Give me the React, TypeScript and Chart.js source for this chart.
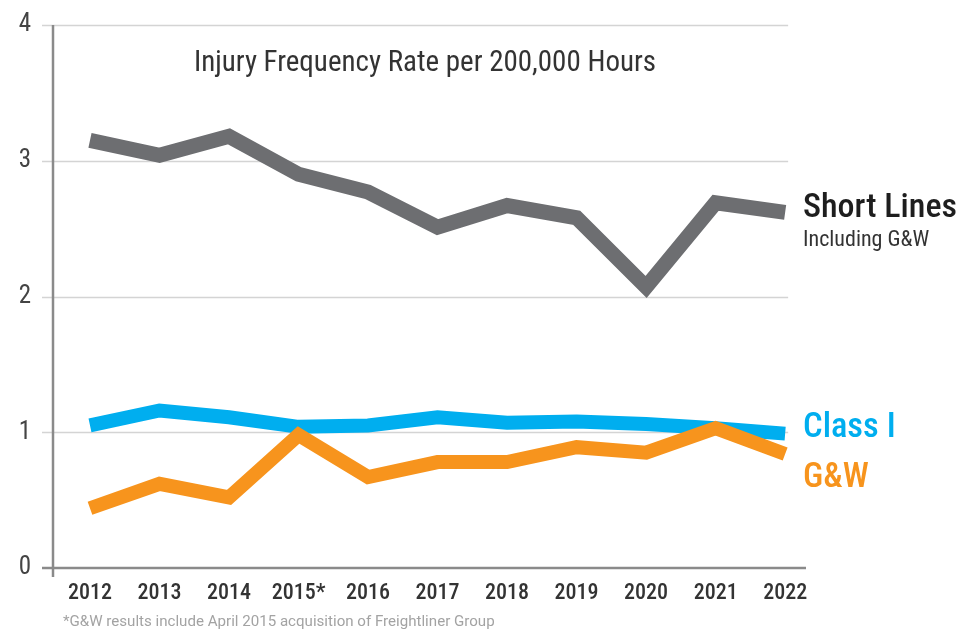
import { useEffect, useRef } from "react";
import { Chart, registerables } from "chart.js";

Chart.register(...registerables);

const years = ["2012", "2013", "2014", "2015*", "2016", "2017", "2018", "2019", "2020", "2021", "2022"];
const shortLines = [3.15, 3.04, 3.18, 2.9, 2.77, 2.51, 2.67, 2.58, 2.07, 2.69, 2.62];
const classI = [1.05, 1.16, 1.11, 1.04, 1.05, 1.11, 1.07, 1.08, 1.06, 1.03, 0.99];
const gw = [0.44, 0.62, 0.52, 0.98, 0.67, 0.78, 0.78, 0.89, 0.85, 1.03, 0.84];
const yTicks = [0, 1, 2, 3, 4];
const titleText = "Injury Frequency Rate per 200,000 Hours";
const footnoteText = "*G&W results include April 2015 acquisition of Freightliner Group";
const shortLabel = "Short Lines";
const shortSubLabel = "Including G&W";
const classLabel = "Class I";
const gwLabel = "G&W";

const GRAY = "#6d6e71";
const BLUE = "#00aeef";
const ORANGE = "#f7941d";

function pickFont(): string {
  const c = document.createElement("canvas").getContext("2d")!;
  const sample = "Injury Frequency 2012 abcdefghijklmnop";
  const cands = ["Roboto Condensed", "Liberation Sans Narrow", "DejaVu Sans Condensed", "Arial Narrow"];
  for (const f of cands) {
    c.font = `20px monospace`;
    const a = c.measureText(sample).width;
    c.font = `20px '${f}', monospace`;
    const b = c.measureText(sample).width;
    if (Math.abs(a - b) > 1) return `'${f}'`;
  }
  return "Roboto";
}

export default function App() {
  const ref = useRef<HTMLCanvasElement>(null);

  useEffect(() => {
    const fam = pickFont() + ", Roboto, 'Liberation Sans', sans-serif";

    const decor = {
      id: "decor",
      beforeDatasetsDraw(chart: any) {
        const { ctx, chartArea, scales } = chart;
        const y = scales.y;
        const x = scales.x;
        ctx.save();
        ctx.strokeStyle = "#d4d4d4";
        ctx.lineWidth = 1.5;
        const gridRight = x.getPixelForValue(years.length - 1) + 3;
        for (const t of yTicks) {
          if (t === 0) continue;
          const py = Math.round(y.getPixelForValue(t)) + 0.5;
          ctx.beginPath();
          ctx.moveTo(chartArea.left - 11, py);
          ctx.lineTo(gridRight, py);
          ctx.stroke();
        }
        ctx.strokeStyle = "#8a8a8a";
        ctx.lineWidth = 2.5;
        const y0 = y.getPixelForValue(0);
        ctx.beginPath();
        ctx.moveTo(chartArea.left, y.getPixelForValue(4));
        ctx.lineTo(chartArea.left, y0 + 9);
        ctx.stroke();
        ctx.beginPath();
        ctx.moveTo(chartArea.left - 11, y0);
        ctx.lineTo(chartArea.right, y0);
        ctx.stroke();
        ctx.restore();
      },
      afterDraw(chart: any) {
        const { ctx } = chart;
        ctx.save();
        ctx.textBaseline = "middle";
        ctx.textAlign = "center";
        ctx.fillStyle = "#333333";
        ctx.font = `29px ${fam}`;
        ctx.fillText(titleText, 425, 64);

        ctx.textAlign = "left";
        ctx.fillStyle = "#1e1e1e";
        ctx.font = `500 34px ${fam}`;
        ctx.fillText(shortLabel, 803, 208);
        ctx.fillStyle = "#333333";
        ctx.font = `22px ${fam}`;
        ctx.fillText(shortSubLabel, 803, 240);

        ctx.fillStyle = BLUE;
        ctx.font = `500 34.5px ${fam}`;
        ctx.fillText(classLabel, 803, 428);
        ctx.fillStyle = ORANGE;
        ctx.fillText(gwLabel, 803, 478);

        ctx.fillStyle = "#a3a3a3";
        ctx.font = `15.1px Roboto, 'Liberation Sans', sans-serif`;
        ctx.fillText(footnoteText, 63, 622);
        ctx.restore();
      },
    };

    const mk = (arr: number[]) => arr.map((v, i) => ({ x: i, y: v }));

    const chart = new Chart(ref.current!, {
      type: "line",
      data: {
        datasets: [
          { label: gwLabel, data: mk(gw), borderColor: ORANGE, order: 0 },
          { label: classLabel, data: mk(classI), borderColor: BLUE, order: 1 },
          { label: shortLabel, data: mk(shortLines), borderColor: GRAY, order: 2, borderWidth: 15 },
        ],
      },
      options: {
        responsive: false,
        animation: false,
        devicePixelRatio: 1,
        layout: { padding: { top: 25, left: 0, right: 158, bottom: 23 } },
        elements: {
          line: { borderWidth: 14, tension: 0, borderJoinStyle: "miter", borderCapStyle: "butt", fill: false },
          point: { radius: 0, hoverRadius: 0 },
        },
        plugins: { legend: { display: false }, tooltip: { enabled: false }, title: { display: false } },
        scales: {
          x: {
            type: "linear",
            min: -0.532,
            max: 10.3,
            grid: { display: false, drawTicks: false },
            border: { display: false },
            afterFit: (s: any) => { s.height = 40; s.paddingLeft = 0; s.paddingRight = 0; },
            ticks: {
              stepSize: 1,
              includeBounds: false,
              autoSkip: false,
              maxRotation: 0,
              padding: 12,
              color: "#333333",
              font: { family: fam, size: 22, weight: "500" },
              callback: (v: any) => (Number.isInteger(v) && years[v] !== undefined ? years[v] : ""),
            },
          },
          y: {
            min: 0,
            max: 4,
            grid: { display: false, drawTicks: false },
            border: { display: false },
            afterFit: (s: any) => { s.width = 53; s.paddingTop = 0; s.paddingBottom = 0; },
            ticks: {
              stepSize: 1,
              padding: 22,
              color: "#444444",
              font: { family: fam, size: 25, weight: "normal" },
            },
          },
        },
      },
      plugins: [decor],
    });
    return () => chart.destroy();
  }, []);

  return (
    <div style={{ position: "absolute", left: 0, top: 0, width: 964, height: 631, background: "#fff" }}>
      <canvas ref={ref} width={964} height={631} style={{ display: "block" }} />
    </div>
  );
}
